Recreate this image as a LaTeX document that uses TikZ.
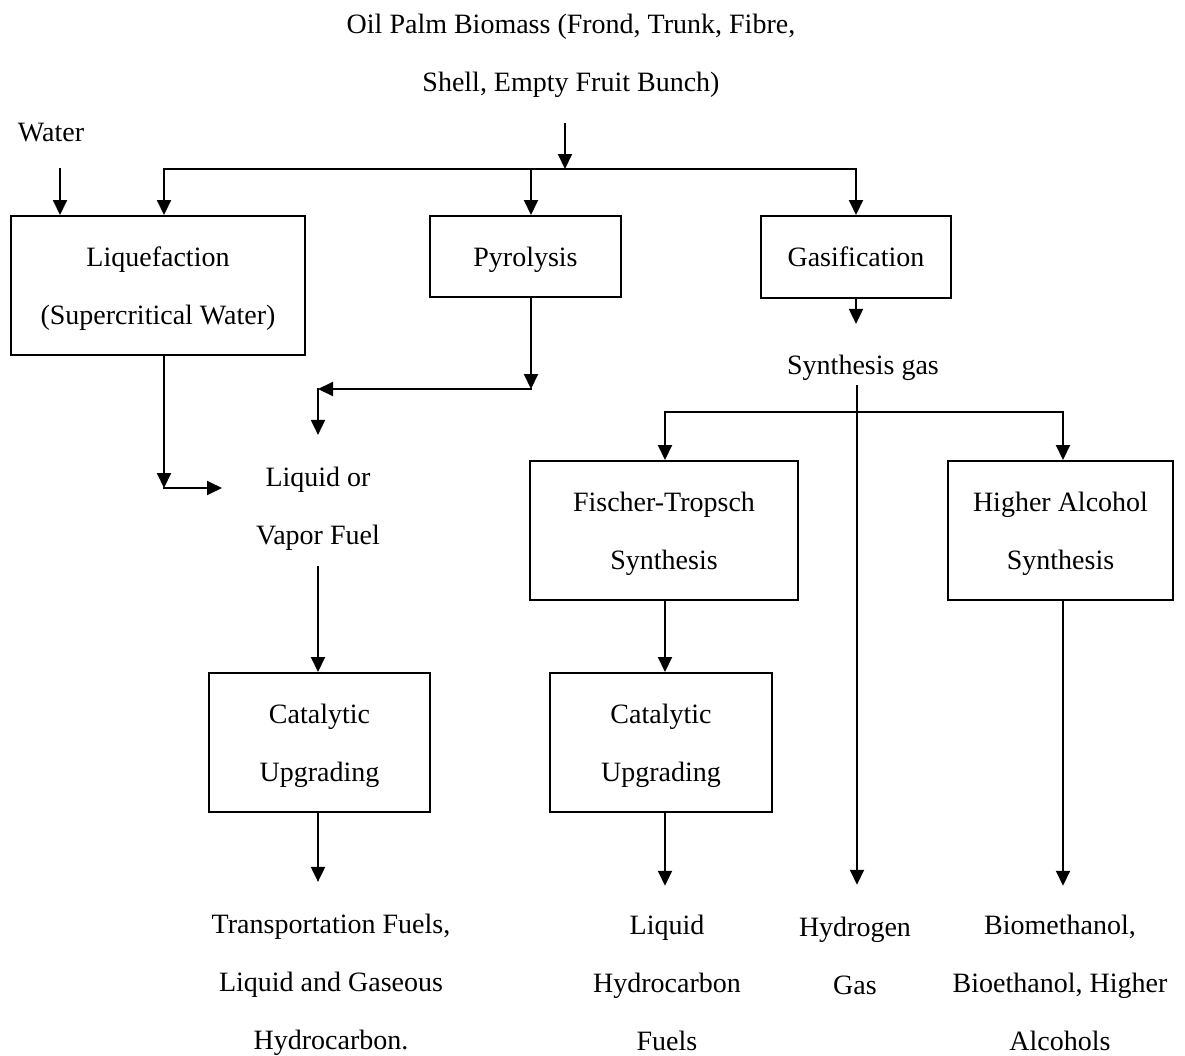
\documentclass[tikz,border=0pt]{standalone}
\usepackage{fontspec}
\setmainfont{Liberation Serif}
\usetikzlibrary{arrows.meta}
\begin{document}
\begin{tikzpicture}[x=0.5pt,y=-0.5pt,
  every node/.style={font=\fontsize{14}{29}\selectfont, align=center},
  box/.style={draw, line width=1pt, inner sep=0pt, text depth=0pt},
  txt/.style={inner xsep=0pt, inner ysep=8pt},
  ln/.style={line width=1pt, line cap=rect},
  arr/.style={line width=1pt, line cap=rect, -{Triangle[length=7.5pt,width=7pt]}},
  totext/.style={shorten >=8pt}]
\useasboundingbox (0,0) rectangle (1185,1056);
\node [txt, inner ysep=13pt] (biomass) at (571,56) {Oil Palm Biomass (Frond, Trunk, Fibre,\\Shell, Empty Fruit Bunch)};
\node [txt] (water) at (51,133) {Water};
\node [box, minimum width=147pt, minimum height=69.5pt] (liq) at (158,285.5) {Liquefaction\\(Supercritical Water)};
\node [box, minimum width=95.5pt, minimum height=40.5pt] (pyro) at (525.5,256.5) {Pyrolysis};
\node [box, minimum width=95pt, minimum height=41pt] (gasif) at (856,257) {Gasification};
\node [txt] (fuel) at (318,509) {Liquid or\\Vapor Fuel};
\node [txt, inner ysep=2.5pt] (syngas) at (863,368) {Synthesis gas};
\node [box, minimum width=134pt, minimum height=69.5pt] (ft) at (664,530.5) {Fischer-Tropsch\\Synthesis};
\node [box, minimum width=112.5pt, minimum height=69.5pt] (has) at (1060.5,530.5) {Higher Alcohol\\Synthesis};
\node [box, minimum width=110.5pt, minimum height=69.5pt] (cu1) at (319.5,742.5) {Catalytic\\Upgrading};
\node [box, minimum width=111pt, minimum height=69.5pt] (cu2) at (661,742.5) {Catalytic\\Upgrading};
\node [txt] (out1) at (331,985) {Transportation Fuels,\\Liquid and Gaseous\\Hydrocarbon.};
\node [txt] (out2) at (667,983) {Liquid\\Hydrocarbon\\Fuels};
\node [txt] (out3) at (855,956) {Hydrogen\\Gas};
\node [txt] (out4) at (1060,983) {Biomethanol,\\Bioethanol, Higher\\Alcohols};
\coordinate (jtop) at (565,169);
\coordinate (jl) at (164,169);
\coordinate (jp) at (531,169);
\coordinate (jg) at (856,169);
\coordinate (jw) at (60,169);
\coordinate (lbend) at (164,488);
\coordinate (lend) at (222,488);
\coordinate (pbend) at (531,389);
\coordinate (pend) at (318,389);
\coordinate (sj) at (857,412);
\coordinate (fj) at (665,412);
\coordinate (hj) at (1063,412);
\draw [arr] (biomass.south -| jtop) -- (jtop);
\draw [ln] (jl) -- (jg);
\draw [arr] (jl) -- (jl |- liq.north);
\draw [arr] (jp) -- (jp |- pyro.north);
\draw [arr] (jg) -- (gasif.north);
\draw [arr] (jw) -- (jw |- liq.north);
\draw [arr] (jl |- liq.south) -- (lbend);
\draw [arr] (lbend) -- (lend);
\draw [arr] (jp |- pyro.south) -- (pbend);
\draw [arr] (pbend) -- (pend);
\draw [arr, totext] (pend) -- (pend |- fuel.north);
\draw [arr] (fuel.south) -- (fuel.south |- cu1.north);
\draw [arr, totext] (fuel.south |- cu1.south) -- (fuel.south |- out1.north);
\draw [arr, shorten >=13pt] (gasif.south) -- (gasif.south |- syngas.north);
\draw [arr, totext] (sj |- syngas.south) -- (sj |- out3.north);
\draw [ln] (fj) -- (hj);
\draw [arr] (fj) -- (fj |- ft.north);
\draw [arr] (hj) -- (hj |- has.north);
\draw [arr] (fj |- ft.south) -- (fj |- cu2.north);
\draw [arr, shorten >=6.5pt] (fj |- cu2.south) -- (fj |- out2.north);
\draw [arr, shorten >=6.5pt] (hj |- has.south) -- (hj |- out4.north);
\end{tikzpicture}
\end{document}
